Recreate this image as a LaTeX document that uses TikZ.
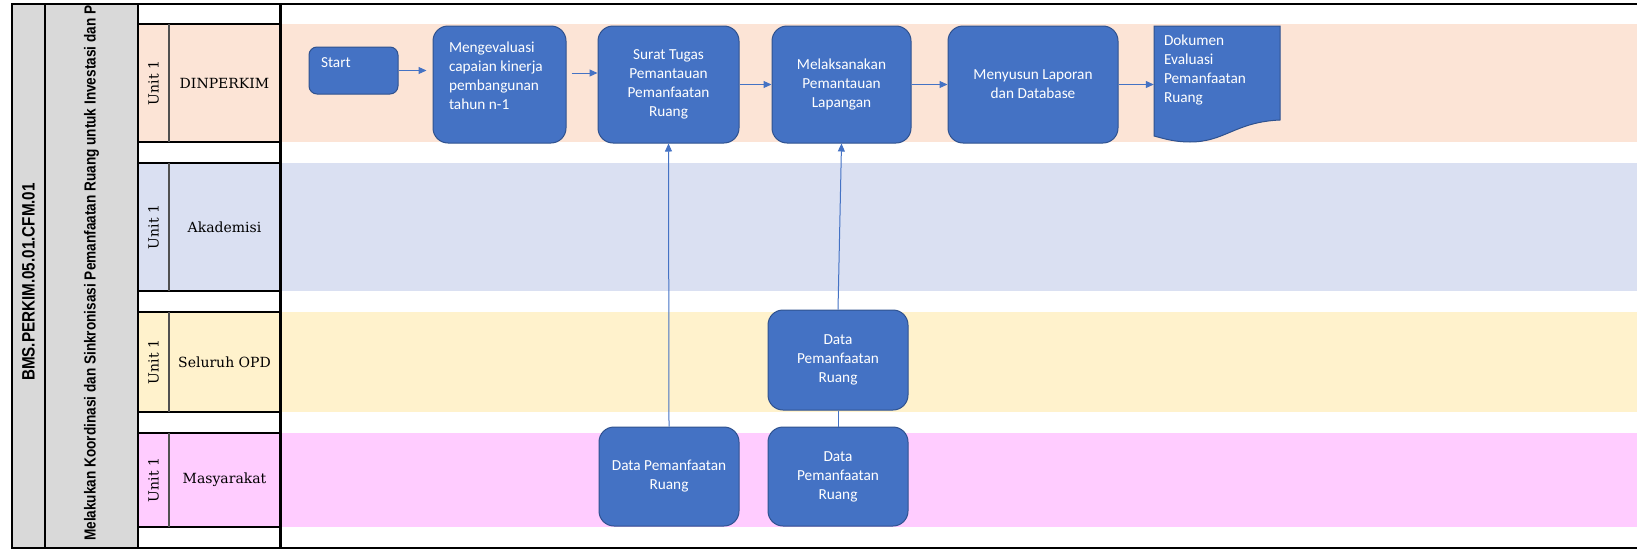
\documentclass[tikz,border=0pt]{standalone}
\usepackage{fontspec}
\newfontfamily\boxfont{Carlito}
\newfontfamily\headfont[FakeStretch=0.85]{Liberation Sans}
\newfontfamily\lanefont{DejaVu Serif}
\usetikzlibrary{positioning,arrows.meta}
\definecolor{procblue}{HTML}{4472C4}
\definecolor{procedge}{HTML}{2F528F}
\definecolor{laneorange}{HTML}{FCE4D6}
\definecolor{laneblue}{HTML}{DAE0F2}
\definecolor{laneyellow}{HTML}{FFF2CC}
\definecolor{lanepink}{HTML}{FFCCFF}
\definecolor{headgray}{HTML}{D9D9D9}
\definecolor{unitline}{HTML}{505050}

\begin{document}
\begin{tikzpicture}[x=1pt,y=-1pt,
  proc/.style={draw=procedge,line width=1pt,fill=procblue,rounded corners=15pt,text=white,align=center,inner sep=0pt,font=\boxfont\fontsize{15.3}{19}\selectfont},
  doctext/.style={inner sep=0pt,text=white,font=\boxfont\fontsize{15.3}{19}\selectfont},
  flow/.style={draw=procblue,line width=1pt,-{Triangle[length=8pt,width=7pt]}},
  link/.style={draw=procblue,line width=1pt},
  lanename/.style={font=\lanefont\fontsize{14}{17}\selectfont},
  unitname/.style={rotate=90,font=\lanefont\fontsize{14}{17}\selectfont},
  cell/.style={draw=black,line width=1.2pt}]

\useasboundingbox (0,0) rectangle (1637,549);

\fill[headgray] (12,4) rectangle (138,548);
\fill[laneorange] (138,24) rectangle (1637,142);
\fill[laneblue] (138,163) rectangle (1637,291);
\fill[laneyellow] (138,312) rectangle (1637,412);
\fill[lanepink] (138,433) rectangle (1637,527);

\draw[cell] (138,24) rectangle (280,142);
\draw[cell] (138,163) rectangle (280,291);
\draw[cell] (138,312) rectangle (280,412);
\draw[cell] (138,433) rectangle (280,527);
\draw[unitline,line width=1.5pt] (169,24) -- (169,142) (169,163) -- (169,291) (169,312) -- (169,412) (169,433) -- (169,527);

\draw[line width=2pt] (1637,4) -- (12,4) -- (12,548) -- (1637,548);
\draw[line width=2pt] (45,4) -- (45,548) (138,4) -- (138,548);
\draw[line width=3pt] (280,4) -- (280,548);

\node[font=\headfont\bfseries\fontsize{17.9}{20}\selectfont,rotate=90] (code) at (28.5,282) {BMS.PERKIM.05.01.CFM.01};
\begin{scope}
\clip (46,5) rectangle (137,547);
\node[font=\headfont\bfseries\fontsize{16}{18}\selectfont,rotate=90,anchor=west,inner sep=0pt] (title) at (91.5,541) {Melakukan Koordinasi dan Sinkronisasi Pemanfaatan Ruang untuk Investasi dan P};
\end{scope}

\node[unitname] (u1) at (153.5,83) {Unit 1};
\node[lanename] (dinperkim) at (224.5,83) {DINPERKIM};
\node[unitname] (u2) at (153.5,227) {Unit 1};
\node[lanename] (akademisi) at (224.5,227) {Akademisi};
\node[unitname] (u3) at (153.5,362) {Unit 1};
\node[lanename] (opd) at (224.5,362) {Seluruh OPD};
\node[unitname] (u4) at (153.5,480) {Unit 1};
\node[lanename] (masyarakat) at (224.5,480) {Masyarakat};

\node[proc,rounded corners=8pt,minimum width=89pt,minimum height=47pt] (start) at (353.5,70.5) {\parbox[c][25pt][t]{65pt}{\raggedright Start}};
\node[proc,minimum width=133pt,minimum height=117pt] (meng) at (499.5,84.5) {\parbox[c][85pt][t]{101pt}{\raggedright Mengevaluasi\\ capaian kinerja\\ pembangunan\\ tahun n-1}};
\node[proc,minimum width=141pt,minimum height=117pt] (surat) at (668.5,84.5) {Surat Tugas\\ Pemantauan\\ Pemanfaatan\\ Ruang};
\node[proc,minimum width=139pt,minimum height=117pt] (mel) at (841.5,84.5) {Melaksanakan\\ Pemantauan\\ Lapangan};
\node[proc,minimum width=170pt,minimum height=117pt] (meny) at (1033,84.5) {Menyusun Laporan\\ dan Database};

\fill[procblue,draw=procedge,line width=1pt] (1154,26) -- (1280,26) -- (1280,120) .. controls (1235,122) and (1225,142) .. (1190,142) .. controls (1175,142) and (1165,139) .. (1154,136) -- cycle;
\node[doctext,minimum width=126pt,minimum height=110pt] (dok) at (1217,81) {\parbox[c][92pt][t]{106pt}{\raggedright Dokumen\\ Evaluasi\\ Pemanfaatan\\ Ruang}};

\node[proc,minimum width=140pt,minimum height=100pt] (dataopd) at (838,360) {Data\\ Pemanfaatan\\ Ruang};
\node[proc,minimum width=140pt,minimum height=99pt] (datam1) at (669,476.5) {Data Pemanfaatan\\ Ruang};
\node[proc,minimum width=140pt,minimum height=99pt] (datam2) at (838,476.5) {Data\\ Pemanfaatan\\ Ruang};

\draw[flow,shorten >=6pt] (start.east) -- (start.east -| meng.west);
\draw[flow,shorten <=5pt] ([yshift=11.5pt]meng.east) -- ([yshift=11.5pt]surat.west);
\draw[flow] (surat.east) -- (mel.west);
\draw[flow] (mel.east) -- (meny.west);
\draw[flow] (meny.east) -- (meny.east -| dok.west);
\draw[flow] (datam1.north) -- (surat.south);
\draw[flow] (dataopd.north) -- (mel.south);
\draw[link] (datam2.north) -- (dataopd.south);

\end{tikzpicture}
\end{document}
